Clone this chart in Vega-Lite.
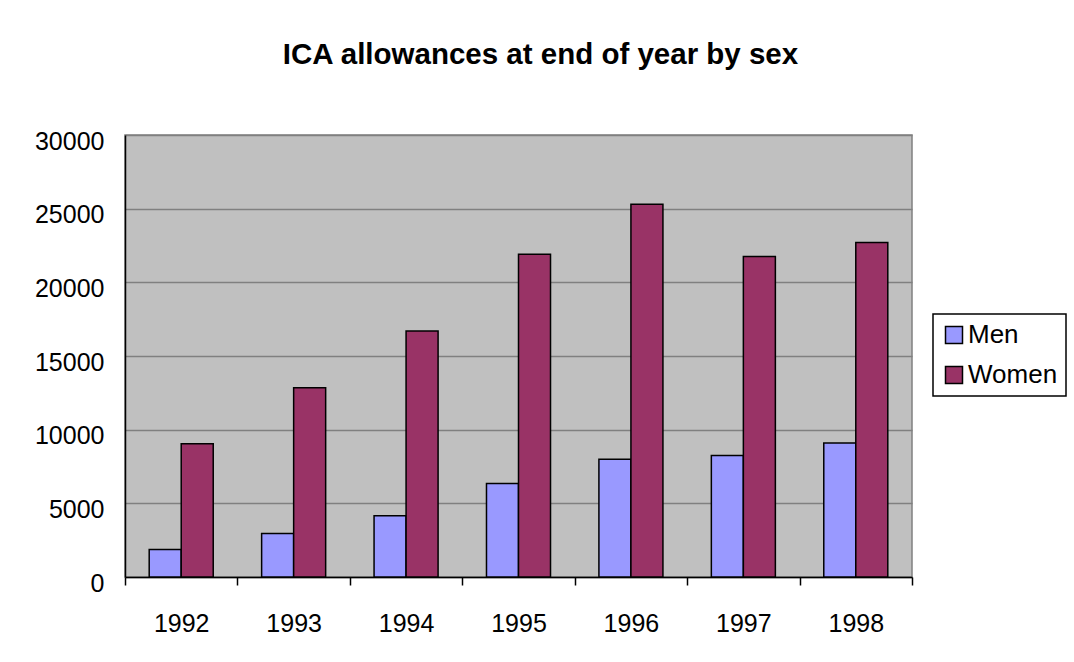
{
  "$schema": "https://vega.github.io/schema/vega-lite/v6.json",
  "autosize": {"type": "none"},
  "width": 787,
  "height": 442,
  "padding": {"left": 125, "top": 135, "right": 162, "bottom": 85},
  "background": "white",
  "title": {
    "text": "ICA allowances at end of year by sex",
    "font": "Liberation Sans",
    "fontSize": 29.5,
    "fontWeight": "bold",
    "color": "black",
    "anchor": "middle",
    "frame": "group",
    "baseline": "alphabetic",
    "dx": 22,
    "offset": 36
  },
  "data": {
    "values": [
      {"year": "1992", "sex": "Men", "count": 1860},
      {"year": "1992", "sex": "Women", "count": 9050},
      {"year": "1993", "sex": "Men", "count": 2950},
      {"year": "1993", "sex": "Women", "count": 12850},
      {"year": "1994", "sex": "Men", "count": 4150},
      {"year": "1994", "sex": "Women", "count": 16700},
      {"year": "1995", "sex": "Men", "count": 6350},
      {"year": "1995", "sex": "Women", "count": 21900},
      {"year": "1996", "sex": "Men", "count": 8000},
      {"year": "1996", "sex": "Women", "count": 25300},
      {"year": "1997", "sex": "Men", "count": 8250},
      {"year": "1997", "sex": "Women", "count": 21750},
      {"year": "1998", "sex": "Men", "count": 9100},
      {"year": "1998", "sex": "Women", "count": 22700}
    ]
  },
  "mark": {"type": "bar", "stroke": "black", "strokeWidth": 1.5},
  "encoding": {
    "x": {
      "field": "year",
      "type": "nominal",
      "scale": {"paddingInner": 0, "paddingOuter": 0},
      "axis": {
        "title": null,
        "labelAngle": 0,
        "labelFont": "Liberation Sans",
        "labelFontSize": 25,
        "labelColor": "black",
        "labelPadding": 26,
        "domainColor": "black",
        "domainWidth": 1.5,
        "tickColor": "black",
        "tickWidth": 1.5,
        "tickSize": 8,
        "tickBand": "extent",
        "grid": false
      }
    },
    "xOffset": {
      "field": "sex",
      "type": "nominal",
      "scale": {"paddingInner": 0, "paddingOuter": 0.756}
    },
    "y": {
      "field": "count",
      "type": "quantitative",
      "scale": {"domain": [0, 30000], "nice": false},
      "axis": {
        "title": null,
        "values": [0, 5000, 10000, 15000, 20000, 25000, 30000],
        "format": "d",
        "labelFont": "Liberation Sans",
        "labelFontSize": 25,
        "labelColor": "black",
        "labelPadding": 21,
        "labelOffset": 6,
        "ticks": false,
        "tickSize": 0,
        "domainColor": "black",
        "domainWidth": 1.5,
        "grid": true,
        "gridColor": "#808080",
        "gridWidth": 1.5
      }
    },
    "color": {
      "field": "sex",
      "type": "nominal",
      "scale": {"domain": ["Men", "Women"], "range": ["#9999FF", "#993366"]},
      "legend": {
        "title": null,
        "orient": "none",
        "legendX": 808,
        "legendY": 179,
        "symbolType": "square",
        "symbolSize": 289,
        "symbolStrokeColor": "black",
        "symbolStrokeWidth": 1.5,
        "labelFont": "Liberation Sans",
        "labelFontSize": 26,
        "labelColor": "black",
        "labelOffset": 1,
        "rowPadding": 14,
        "padding": 8,
        "strokeColor": "black",
        "fillColor": "white"
      }
    }
  },
  "config": {
    "view": {"fill": "#C0C0C0", "stroke": "#808080", "strokeWidth": 1.5},
    "legend": {"strokeWidth": 1.5}
  }
}
